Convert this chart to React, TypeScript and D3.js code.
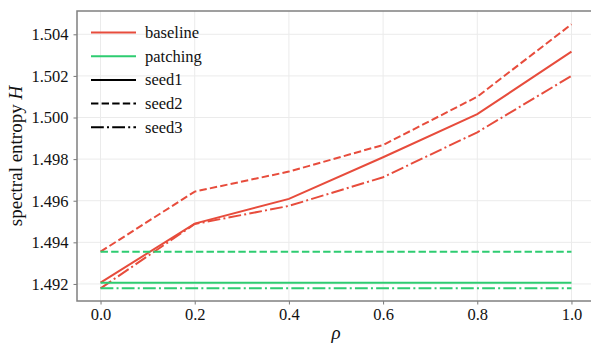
import React from "react";
import * as d3 from "d3";

// rho values on the x axis
const rho = [0.0, 0.2, 0.4, 0.6, 0.8, 1.0];

// baseline, one array per seed
const baselineSeed1 = [1.49206, 1.4949, 1.49609, 1.49809, 1.50016, 1.50317];
const baselineSeed2 = [1.49355, 1.49644, 1.4974, 1.49868, 1.501, 1.50448];
const baselineSeed3 = [1.49179, 1.49488, 1.49575, 1.49713, 1.49929, 1.502];

// patching stays flat
const patchingSeed1 = [1.49206, 1.49206, 1.49206, 1.49206, 1.49206, 1.49206];
const patchingSeed2 = [1.49355, 1.49355, 1.49355, 1.49355, 1.49355, 1.49355];
const patchingSeed3 = [1.49179, 1.49179, 1.49179, 1.49179, 1.49179, 1.49179];

const xTicks = [0.0, 0.2, 0.4, 0.6, 0.8, 1.0];
const yTicks = [1.492, 1.494, 1.496, 1.498, 1.5, 1.502, 1.504];

const RED = "#e74c3c";
const GREEN = "#2ecc71";
const FONT = "Liberation Serif, serif";

const dashes: Record<string, string | undefined> = {
    seed1: undefined,
    seed2: "7.4,3.2",
    seed3: "12.8,3.2,2,3.2",
};

export default function App() {
    const ref = React.useRef<SVGSVGElement>(null);

    React.useEffect(() => {
        drawChart();
    }, []);

    function drawChart() {
        const width = 591;
        const height = 346;
        const margin = { top: 11, right: -4, bottom: 45, left: 77 };

        const svg = d3.select(ref.current);
        svg.selectAll("*").remove();

        const x = d3
            .scaleLinear()
            .domain([-0.05, 1.05])
            .range([margin.left, width - margin.right]);
        const y = d3
            .scaleLinear()
            .domain([1.49118, 1.50512])
            .range([height - margin.bottom, margin.top]);

        // grid
        const grid = svg.append("g");
        grid.selectAll("line.gx")
            .data(xTicks)
            .enter()
            .append("line")
            .attr("x1", (d) => x(d))
            .attr("x2", (d) => x(d))
            .attr("y1", margin.top)
            .attr("y2", height - margin.bottom)
            .attr("stroke", "#ebebeb")
            .attr("stroke-width", 1);
        grid.selectAll("line.gy")
            .data(yTicks)
            .enter()
            .append("line")
            .attr("x1", margin.left)
            .attr("x2", width - margin.right)
            .attr("y1", (d) => y(d))
            .attr("y2", (d) => y(d))
            .attr("stroke", "#ebebeb")
            .attr("stroke-width", 1);

        // axes
        const xAxis = d3
            .axisBottom(x)
            .tickValues(xTicks)
            .tickSize(3.5)
            .tickPadding(4)
            .tickFormat(d3.format(".1f"));
        const yAxis = d3
            .axisLeft(y)
            .tickValues(yTicks)
            .tickSize(3.5)
            .tickPadding(5)
            .tickFormat(d3.format(".3f"));

        const gx = svg
            .append("g")
            .attr("transform", `translate(0,${height - margin.bottom})`)
            .call(xAxis);
        const gy = svg
            .append("g")
            .attr("transform", `translate(${margin.left},0)`)
            .call(yAxis);
        [gx, gy].forEach((g) => {
            g.attr("font-family", null).attr("font-size", null);
            g.select(".domain").remove();
            g.selectAll(".tick line").attr("stroke", "#555").attr("stroke-width", 0.8);
            g.selectAll(".tick text")
                .style("font-family", FONT)
                .style("font-size", "16.5px")
                .attr("fill", "#111");
        });

        // spines
        svg.append("rect")
            .attr("x", margin.left)
            .attr("y", margin.top)
            .attr("width", width - margin.right - margin.left)
            .attr("height", height - margin.bottom - margin.top)
            .attr("fill", "none")
            .attr("stroke", "#808080")
            .attr("stroke-width", 1.5);

        // lines
        const line = d3
            .line<number>()
            .x((d, i) => x(rho[i]))
            .y((d) => y(d));

        const series = [
            { values: baselineSeed1, color: RED, seed: "seed1" },
            { values: baselineSeed2, color: RED, seed: "seed2" },
            { values: baselineSeed3, color: RED, seed: "seed3" },
            { values: patchingSeed1, color: GREEN, seed: "seed1" },
            { values: patchingSeed2, color: GREEN, seed: "seed2" },
            { values: patchingSeed3, color: GREEN, seed: "seed3" },
        ];

        series.forEach((s) => {
            svg.append("path")
                .datum(s.values)
                .attr("d", line)
                .attr("fill", "none")
                .attr("stroke", s.color)
                .attr("stroke-width", 2)
                .attr("stroke-dasharray", dashes[s.seed] || null);
        });

        // legend
        const legendItems = [
            { label: "baseline", color: RED, dash: undefined },
            { label: "patching", color: GREEN, dash: undefined },
            { label: "seed1", color: "#000", dash: dashes.seed1 },
            { label: "seed2", color: "#000", dash: dashes.seed2 },
            { label: "seed3", color: "#000", dash: dashes.seed3 },
        ];
        const legend = svg.append("g");
        legendItems.forEach((item, i) => {
            const ly = 32.5 + i * 23.7;
            legend.append("line")
                .attr("x1", 91)
                .attr("x2", 136)
                .attr("y1", ly)
                .attr("y2", ly)
                .attr("stroke", item.color)
                .attr("stroke-width", 2)
                .attr("stroke-dasharray", item.dash || null);
            legend.append("text")
                .attr("x", 145)
                .attr("y", ly)
                .attr("dy", "0.33em")
                .style("font-family", FONT)
                .style("font-size", "16.5px")
                .attr("fill", "#111")
                .text(item.label);
        });

        // axis labels
        svg.append("text")
            .attr("x", (margin.left + width - margin.right) / 2)
            .attr("y", 339)
            .attr("text-anchor", "middle")
            .style("font-family", FONT)
            .style("font-size", "19px")
            .style("font-style", "italic")
            .attr("fill", "#111")
            .text("ρ");

        const yl = svg
            .append("text")
            .attr("transform", `translate(22,${(margin.top + height - margin.bottom) / 2}) rotate(-90)`)
            .attr("text-anchor", "middle")
            .style("font-family", FONT)
            .style("font-size", "19px")
            .attr("fill", "#111");
        yl.append("tspan").text("spectral entropy ");
        yl.append("tspan").style("font-style", "italic").text("H");
    }

    return (
        <svg
            ref={ref}
            width={591}
            height={346}
            style={{ position: "absolute", left: 0, top: 0, background: "#fff" }}
        />
    );
}
